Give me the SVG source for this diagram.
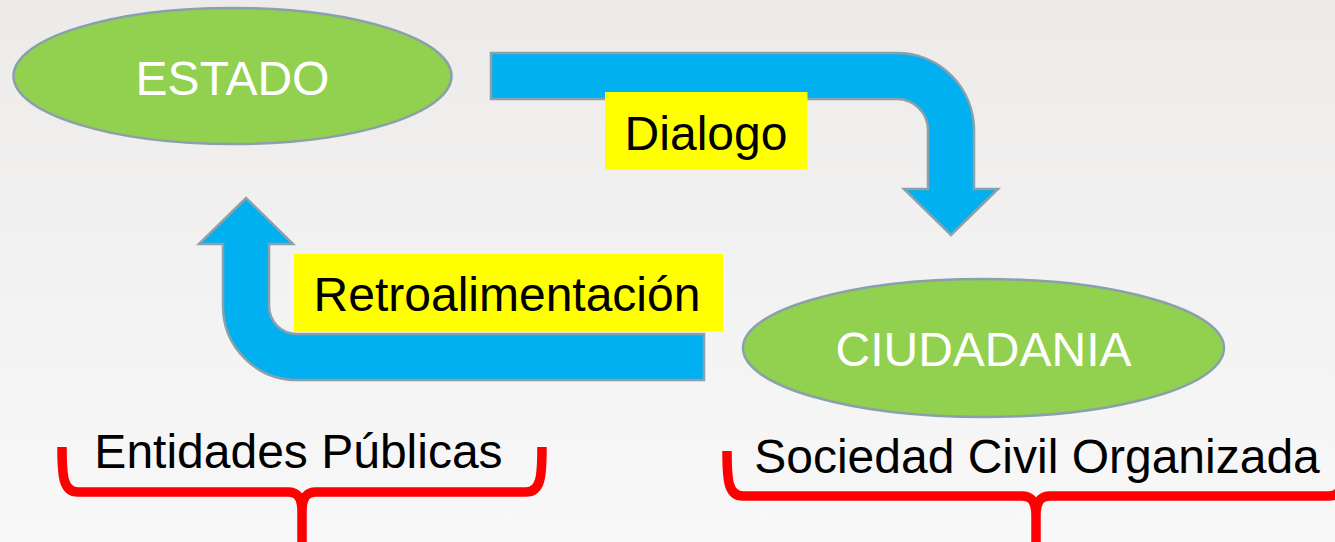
<svg xmlns="http://www.w3.org/2000/svg" width="1335" height="542" viewBox="0 0 1335 542">
<defs>
<linearGradient id="bg" x1="0" y1="0" x2="0" y2="1">
<stop offset="0" stop-color="#ecebe9"/>
<stop offset="0.5" stop-color="#f3f2f2"/>
<stop offset="1" stop-color="#f8f8f8"/>
</linearGradient>
<style>
.ell{fill:#92d050;stroke:#8aa0aa;stroke-width:2.5}
.arr{fill:#00b0f0;stroke:#8aa0aa;stroke-width:2.5;stroke-linejoin:miter}
.lbl{fill:#ffff00}
.t{font-family:"Liberation Sans",Arial,sans-serif;font-size:48px}
.w{fill:#ffffff}
.k{fill:#000000}
.brace{fill:none;stroke:#ff0000;stroke-width:9.5;stroke-linecap:butt;stroke-linejoin:round}
</style>
</defs>
<rect x="0" y="0" width="1335" height="542" fill="url(#bg)"/>

<g id="connectors">
<g id="dialogo-arrow">
<path class="arr" d="M 491 53 L 897 53 A 77 77 0 0 1 974 130 L 974 189 L 998 189 L 951 235 L 904 189 L 928 189 L 928 130 A 31 31 0 0 0 897 99 L 491 99 Z"/>
<rect class="lbl" x="605" y="92" width="202.5" height="77.5"/>
<text class="t k" x="706" y="150" text-anchor="middle">Dialogo</text>
</g>
<g id="retro-arrow">
<path class="arr" d="M 704 334 L 297 334 A 28 28 0 0 1 269 306 L 269 244 L 293 244 L 246 198 L 199 244 L 223 244 L 223 306 A 74 74 0 0 0 297 380 L 704 380 Z"/>
<rect class="lbl" x="294" y="254" width="429" height="77.5"/>
<text class="t k" x="507" y="311" text-anchor="middle">Retroalimentación</text>
</g>
</g>

<g id="estado">
<ellipse class="ell" cx="232.5" cy="76" rx="219" ry="68"/>
<text class="t w" x="232.5" y="94.5" text-anchor="middle">ESTADO</text>
</g>

<g id="ciudadania">
<ellipse class="ell" cx="983.5" cy="348" rx="240.5" ry="69"/>
<text class="t w" x="983.5" y="366" text-anchor="middle">CIUDADANIA</text>
</g>

<g id="entidades">
<text class="t k" x="298.5" y="468" text-anchor="middle">Entidades Públicas</text>
<path class="brace" d="M 62 447 C 62 476 63 492 78 492 L 288 492 C 298 492 302 498 302 512 L 302 542 M 302 512 C 302 498 306 492 316 492 L 526 492 C 541 492 542 476 542 447"/>
</g>

<g id="sociedad">
<text class="t k" x="1037" y="473" text-anchor="middle">Sociedad Civil Organizada</text>
<path class="brace" d="M 727 451 C 727 480 728 496 743 496 L 1022 496 C 1032 496 1036 502 1036 516 L 1036 542 M 1036 516 C 1036 502 1040 496 1050 496 L 1329 496 C 1344 496 1345 480 1345 451"/>
</g>
</svg>
